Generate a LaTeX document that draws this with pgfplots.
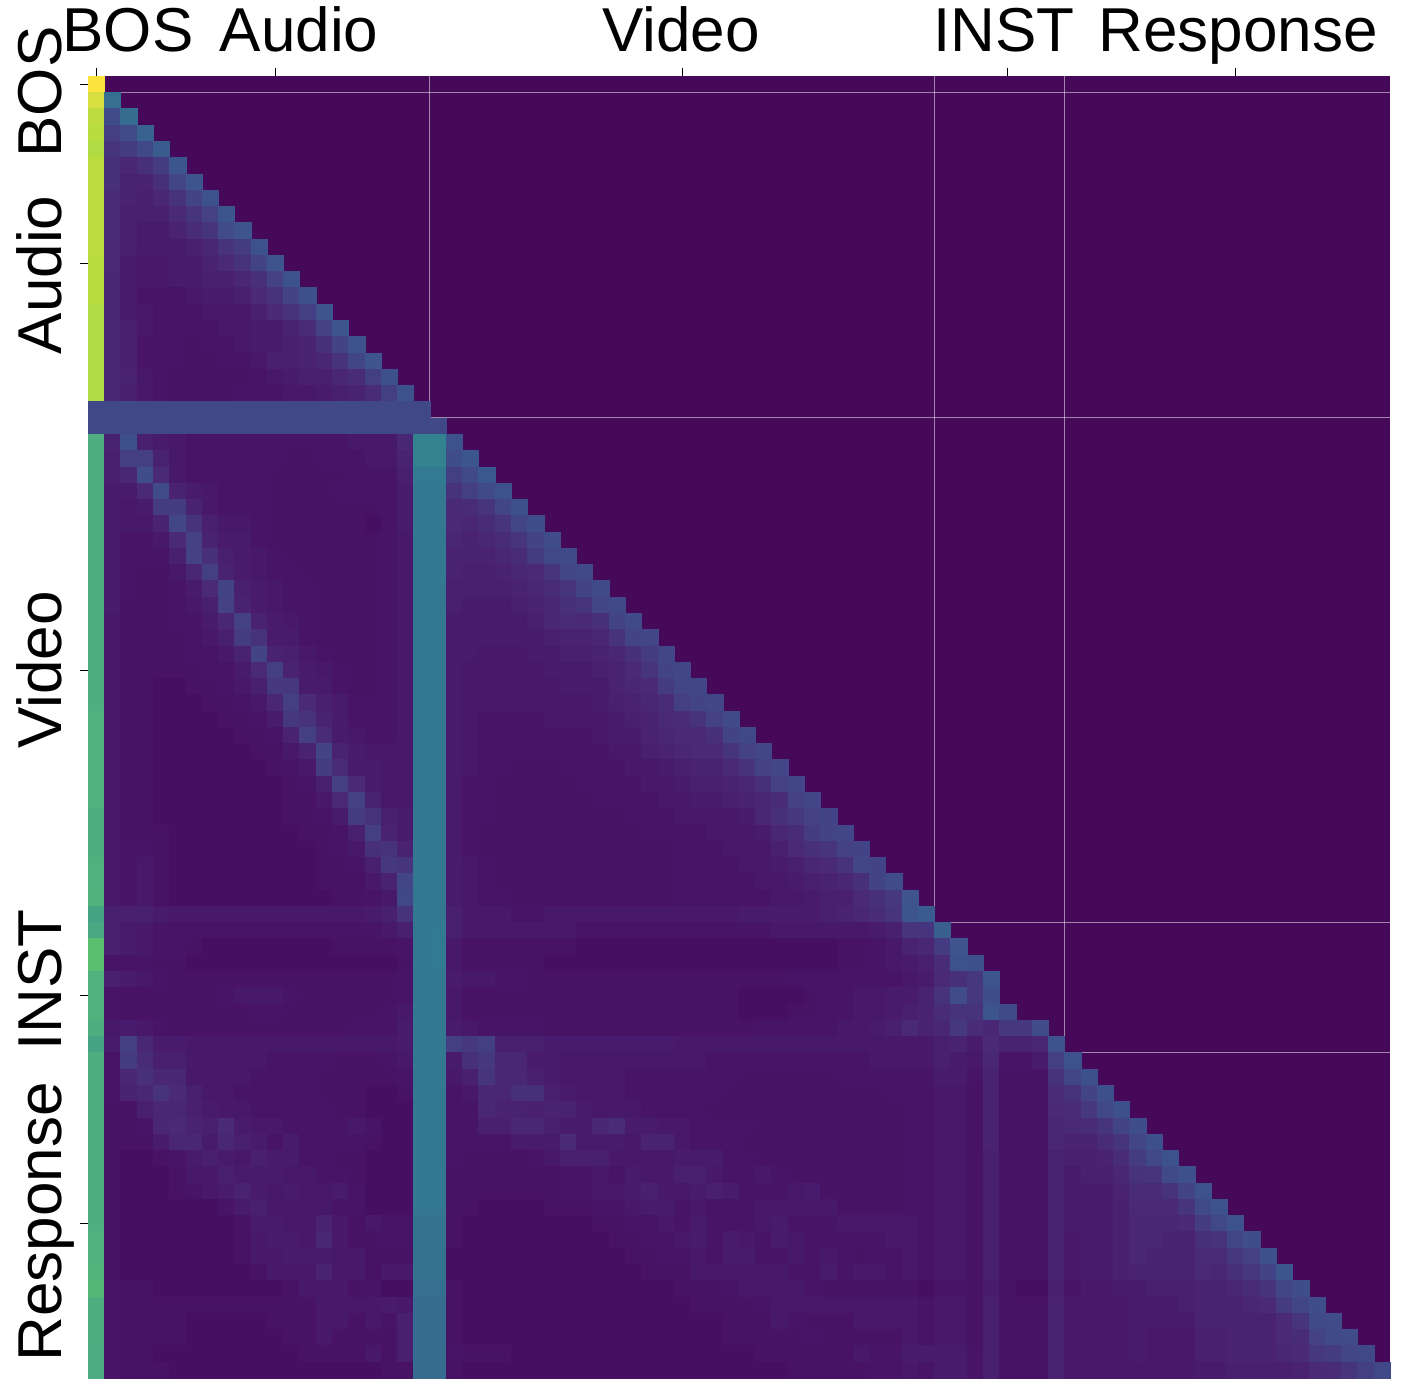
\documentclass[border=0pt]{standalone}
\usepackage{fontspec}
\setmainfont{Liberation Sans}
\usepackage{pgfplots}
\pgfplotsset{compat=1.18}
\definecolor{vbg}{RGB}{70,8,88}
\newcommand\Row[2]{%
  \gdef\coords{}%
  \foreach \vv [count=\cc from 0] in {#2} {\xdef\coords{\coords (\cc,#1) [\vv]}}%
  \edef\temp{\noexpand\addplot[cell] coordinates {\coords};}\temp}
\begin{document}
\begin{tikzpicture}
\useasboundingbox (-44pt,-6pt) rectangle (658pt,689pt);
\begin{axis}[
  scale only axis, width=651pt, height=651pt,
  xmin=-0.5, xmax=79.5, ymin=-0.5, ymax=79.5, y dir=reverse,
  axis line style={draw=none},
  axis background/.style={fill=vbg},
  colormap={refmap}{rgb255(0pt)=(70,8,88) rgb255(5pt)=(72,20,104) rgb255(10pt)=(74,38,118)
    rgb255(20pt)=(67,68,135) rgb255(30pt)=(59,88,142) rgb255(40pt)=(50,122,145)
    rgb255(50pt)=(50,145,140) rgb255(62pt)=(79,174,128) rgb255(70pt)=(90,192,112)
    rgb255(80pt)=(140,209,85) rgb255(86pt)=(184,221,62) rgb255(92pt)=(215,224,64)
    rgb255(100pt)=(253,228,60)},
  point meta min=0, point meta max=100,
  xtick={0,11,36,56,70}, ytick={0,11,36,56,70},
  xticklabel=\empty, yticklabel=\empty,
  xtick pos=upper, ytick pos=lower, tick align=outside,
  major tick length=4pt,
  tick style={black,line width=0.5pt},
  cell/.style={scatter, only marks, mark=square*, mark size=4.07pt,
    mark options={line width=0.1pt}, point meta=explicit,
    scatter/use mapped color={draw=mapped color,fill=mapped color}},
]
\Row{0}{100}
\Row{1}{92,37}
\Row{2}{87,24,36}
\Row{3}{86,18,24,33}
\Row{4}{85,15,17,22,31}
\Row{5}{87,13,10,13,17,29}
\Row{6}{87,13,9,9,13,21,28}
\Row{7}{87,12,9,8,10,14,20,27}
\Row{8}{87,12,8,8,8,11,15,19,29}
\Row{9}{87,12,8,7,7,9,12,15,24,28}
\Row{10}{87,11,8,7,7,7,8,10,14,17,27}
\Row{11}{86,11,7,6,6,7,7,9,11,14,20,28}
\Row{12}{86,10,7,6,6,7,7,8,8,10,13,19,27}
\Row{13}{86,10,7,5,5,5,6,7,7,8,11,14,20,26}
\Row{14}{85,10,7,6,5,5,5,6,6,6,8,11,14,18,28}
\Row{15}{85,10,8,6,5,5,5,5,6,6,7,7,9,12,19,28}
\Row{16}{85,10,8,5,5,5,4,5,5,6,7,7,8,9,13,20,27}
\Row{17}{85,10,8,5,5,5,4,4,5,5,6,8,8,9,10,14,21,28}
\Row{18}{85,10,9,6,5,4,4,4,4,4,5,6,7,8,8,10,12,18,26}
\Row{19}{85,10,8,6,5,4,4,4,4,5,5,5,6,6,7,8,9,12,18,27}
\Row{20}{22,22,22,22,22,22,22,22,22,22,22,22,22,22,22,22,22,22,22,22,22}
\Row{21}{22,22,22,22,22,22,22,22,22,22,22,22,22,22,22,22,22,22,22,22,22,22}
\Row{22}{62,9,26,8,7,6,5,5,5,5,5,5,5,5,5,5,6,6,6,10,44,44,27}
\Row{23}{62,8,18,18,9,6,5,5,5,5,5,5,4,4,5,5,5,6,6,9,44,44,25,29}
\Row{24}{62,8,10,25,11,6,5,5,5,5,5,4,4,4,4,4,5,5,5,8,40,40,18,23,30}
\Row{25}{62,7,7,11,24,9,7,6,5,5,5,4,4,4,4,5,5,5,5,7,39,39,14,18,23,27}
\Row{26}{62,7,6,7,17,17,9,6,5,5,5,4,4,4,4,4,4,4,5,7,39,39,11,12,15,21,26}
\Row{27}{62,7,6,6,9,21,14,8,6,6,5,4,4,4,4,4,4,3,5,7,39,39,11,10,12,15,21,25}
\Row{28}{62,7,5,5,6,11,19,9,7,7,5,4,4,4,4,4,4,4,5,6,39,39,10,9,10,12,15,20,24}
\Row{29}{62,7,5,5,5,8,19,13,8,7,6,5,4,4,4,4,4,4,5,6,39,39,9,9,9,10,12,17,22,23}
\Row{30}{62,7,5,4,4,6,10,18,9,7,6,5,5,4,4,4,4,4,5,6,39,39,9,8,8,9,10,11,15,21,22}
\Row{31}{62,7,5,4,4,5,7,11,20,8,7,6,5,5,4,4,4,4,5,6,39,39,8,8,8,8,9,10,12,15,20,23}
\Row{32}{62,7,4,4,4,5,6,8,19,9,7,6,5,5,4,4,4,4,5,6,39,39,8,7,7,7,8,9,10,13,15,21,22}
\Row{33}{62,6,4,4,4,5,5,7,10,19,9,7,6,5,4,4,4,4,5,6,39,39,7,7,7,7,7,8,10,12,11,13,20,23}
\Row{34}{62,6,4,4,4,4,5,6,8,17,14,7,7,5,4,4,4,4,5,6,39,39,7,7,7,7,7,7,8,9,9,10,14,20,21}
\Row{35}{62,6,4,4,4,4,5,5,6,9,20,9,8,6,5,4,4,4,5,6,39,39,7,7,6,6,6,7,7,8,8,9,10,13,17,21}
\Row{36}{62,6,4,4,4,4,4,5,5,7,11,18,9,7,6,5,4,4,5,6,39,39,7,6,6,6,6,6,7,7,7,8,9,11,15,20,21}
\Row{37}{62,6,4,4,3,3,4,4,5,6,8,16,16,7,7,5,4,4,5,6,39,39,7,6,6,6,6,6,6,7,7,7,9,10,11,17,21,21}
\Row{38}{62,6,4,4,3,3,3,4,4,5,6,10,18,11,8,7,5,5,5,6,39,39,7,6,6,6,6,6,6,6,6,7,8,9,10,12,18,20,21}
\Row{39}{63,6,4,4,3,3,3,3,4,4,5,7,16,14,9,7,5,5,5,6,39,39,7,6,5,5,5,5,6,6,6,6,7,8,9,11,12,14,19,23}
\Row{40}{63,6,4,4,3,3,3,3,3,4,4,5,9,18,12,7,6,5,5,6,39,39,7,6,5,5,5,5,5,5,5,6,7,7,9,10,11,11,13,20,22}
\Row{41}{63,6,4,4,3,3,3,3,3,3,4,4,6,9,20,9,7,6,6,6,39,39,7,6,5,5,5,5,5,5,5,5,6,6,8,9,10,11,11,15,19,21}
\Row{42}{63,6,4,4,3,3,3,3,3,3,3,4,5,6,17,12,7,7,6,6,39,39,7,6,5,5,4,4,4,5,5,5,5,6,6,7,8,9,9,11,14,19,21}
\Row{43}{63,6,4,4,3,3,3,3,3,3,3,3,4,5,8,18,11,7,6,6,39,39,7,5,5,4,4,4,4,4,5,5,5,5,6,6,7,8,8,9,10,13,19,21}
\Row{44}{63,6,4,4,3,3,3,3,3,3,3,3,4,4,6,11,19,9,6,6,39,39,7,5,5,4,4,4,4,4,4,5,5,5,5,6,6,7,7,8,9,10,12,19,21}
\Row{45}{62,6,4,4,3,3,3,3,3,3,3,3,4,4,5,7,17,14,8,7,39,39,7,5,5,4,4,4,4,4,4,4,4,5,5,5,6,6,6,6,7,10,13,16,19,20}
\Row{46}{62,6,4,4,4,3,3,3,3,3,3,3,3,4,4,5,8,18,9,7,39,39,7,5,4,4,4,4,4,4,4,4,4,4,5,5,5,5,6,6,6,7,10,12,17,20,21}
\Row{47}{62,6,5,5,4,3,3,3,3,3,3,3,3,3,4,5,6,13,14,9,39,39,7,5,4,4,4,4,4,4,4,4,4,4,4,4,5,5,5,6,6,6,8,11,13,15,19,20}
\Row{48}{63,6,5,6,4,3,3,3,3,3,3,3,3,3,4,4,5,8,16,15,39,39,7,6,5,4,4,4,4,4,4,4,4,4,4,4,5,5,5,5,6,6,7,8,10,11,14,21,20}
\Row{49}{63,6,5,6,4,3,3,3,3,3,3,3,3,3,4,4,4,6,9,21,39,39,7,6,5,4,4,4,4,4,4,4,4,4,4,4,5,5,5,5,5,6,6,7,8,9,10,13,20,24}
\Row{50}{64,6,5,6,4,3,3,3,3,3,3,3,3,3,3,4,4,5,6,22,39,39,7,6,5,5,4,4,4,4,4,4,4,4,4,4,5,5,5,5,5,5,6,6,7,8,8,11,13,16,28}
\Row{51}{58,8,8,8,7,6,6,6,6,6,6,6,6,6,6,6,6,7,8,14,39,39,8,6,6,6,5,5,6,6,6,6,6,6,6,6,6,6,6,6,7,7,7,7,7,8,9,10,12,15,29,31}
\Row{52}{60,8,7,6,5,5,5,5,5,5,5,5,5,5,5,5,5,5,6,8,39,40,8,6,6,6,6,6,6,6,5,5,5,5,5,5,5,5,5,5,5,5,6,6,6,6,6,6,7,8,15,15,32}
\Row{53}{70,8,7,6,5,5,4,3,3,3,3,3,3,3,3,4,4,4,4,5,39,40,6,4,4,4,4,4,4,4,3,3,3,3,3,3,3,3,3,3,3,3,3,3,3,3,4,4,5,6,9,10,17,28}
\Row{54}{70,5,5,5,4,4,3,3,3,3,3,3,3,3,3,3,3,3,3,4,39,40,6,4,4,4,4,4,3,3,3,3,3,3,3,3,3,3,3,3,3,3,3,3,3,3,4,4,5,6,7,8,12,27,26}
\Row{55}{63,8,7,6,5,4,4,4,4,4,4,4,4,4,4,4,4,4,4,5,39,39,7,6,6,5,5,4,4,4,4,4,4,4,4,4,4,4,4,4,4,4,4,5,5,5,5,5,5,5,6,7,11,13,16,28}
\Row{56}{63,5,4,4,4,4,4,4,5,6,6,6,5,4,4,4,4,4,4,5,39,39,6,4,4,4,4,4,4,4,4,4,4,4,4,4,4,4,4,4,3,3,3,3,4,5,5,6,6,7,7,9,14,24,16,25}
\Row{57}{63,5,4,4,4,4,4,4,4,4,5,5,4,4,4,4,4,4,5,6,39,39,6,4,4,4,4,4,4,4,4,4,4,4,4,4,4,4,4,4,3,3,3,4,4,5,5,6,6,7,8,9,12,14,14,29,23}
\Row{58}{62,6,7,6,5,4,4,4,4,4,4,4,4,4,4,4,5,5,5,7,39,39,7,6,5,5,5,5,4,4,4,4,4,4,4,4,4,4,4,4,4,5,5,5,5,5,6,6,7,8,11,9,10,16,12,10,16,16,24}
\Row{59}{58,7,18,10,7,7,6,6,6,6,6,6,6,6,6,6,6,6,6,7,39,39,18,16,18,8,8,8,7,7,7,7,7,7,7,7,6,6,6,6,6,6,6,6,6,6,6,6,6,6,6,6,8,9,7,11,9,9,10,27}
\Row{60}{62,5,17,12,8,8,6,6,6,6,6,5,5,5,5,4,4,4,5,6,39,39,7,13,16,10,10,7,7,6,6,6,6,6,6,6,6,6,5,5,5,5,5,5,5,5,5,5,6,6,6,6,8,7,6,10,5,5,7,18,27}
\Row{61}{62,5,10,13,10,10,6,6,6,6,5,5,5,5,4,4,4,4,4,5,39,39,6,8,15,10,10,8,7,6,6,6,6,5,5,5,5,5,5,5,4,4,4,4,4,4,5,5,5,5,5,5,7,7,5,9,4,4,4,14,21,26}
\Row{62}{62,5,9,10,14,11,8,6,6,5,5,5,5,5,4,4,4,3,3,4,39,39,5,6,10,10,13,13,8,7,6,6,6,5,5,5,5,5,5,4,4,4,4,4,4,4,4,4,4,5,5,5,6,6,4,9,4,4,4,12,14,20,26}
\Row{63}{62,4,4,8,10,10,8,7,6,6,5,5,5,5,5,4,4,3,3,3,39,39,5,5,10,9,9,8,9,9,7,6,6,6,5,5,5,5,4,4,4,4,4,4,4,4,4,4,4,4,5,5,6,6,4,9,4,4,4,11,12,16,22,26}
\Row{64}{62,4,4,5,10,11,9,8,11,7,6,6,5,5,5,5,6,5,3,3,39,39,5,5,8,8,10,10,8,7,7,10,12,7,7,6,6,5,5,5,5,4,4,4,4,4,4,4,4,4,5,5,6,6,4,9,4,4,4,10,11,12,15,20,25}
\Row{65}{62,4,4,4,7,10,10,7,10,8,7,5,7,5,5,5,5,4,3,3,39,39,5,5,5,5,7,7,7,11,7,7,7,6,9,9,6,5,5,5,4,4,4,4,4,4,4,4,4,4,5,5,6,6,4,9,4,4,4,10,9,9,12,15,21,26}
\Row{66}{62,4,3,3,4,5,7,8,7,6,8,7,7,5,5,4,4,3,3,3,39,39,5,4,4,4,4,5,6,8,8,8,6,6,6,6,7,7,7,5,5,4,4,4,4,4,4,4,4,4,5,5,6,6,4,8,4,4,4,9,8,8,9,12,17,22,27}
\Row{67}{62,4,3,3,3,4,6,6,8,7,7,7,6,6,5,5,4,3,3,3,39,39,4,4,4,4,4,4,4,5,5,6,5,7,6,6,8,8,6,5,5,6,5,4,4,4,4,4,4,4,5,5,6,6,4,8,4,4,4,9,7,8,8,10,14,15,23,26}
\Row{68}{62,4,3,3,3,4,5,6,7,9,7,6,7,6,6,7,5,3,3,3,39,39,4,4,4,4,4,4,4,5,5,6,6,7,8,6,6,7,8,7,5,5,5,6,7,4,4,4,4,4,5,5,6,6,4,8,4,4,4,9,7,7,7,9,12,12,14,20,27}
\Row{69}{62,4,3,3,3,3,3,3,5,7,8,6,6,6,6,5,5,3,3,3,39,39,4,4,3,3,3,3,4,4,4,5,5,6,7,7,5,6,5,5,5,6,6,6,6,6,4,4,4,4,5,5,6,6,4,8,4,4,4,9,7,7,7,8,11,11,11,15,23,27}
\Row{70}{62,4,3,3,3,3,3,3,3,4,7,7,6,6,9,6,4,6,5,5,38,38,4,3,3,3,3,3,3,3,3,4,4,5,5,6,5,7,5,5,5,6,7,5,5,5,6,6,6,6,6,5,6,6,4,8,4,4,4,9,7,7,7,8,10,10,10,11,17,22,27}
\Row{71}{63,4,3,3,3,3,3,3,3,4,6,7,7,6,10,6,4,4,5,5,38,38,4,3,3,3,3,3,3,3,3,3,4,4,5,5,6,7,5,7,6,5,7,6,5,5,5,5,5,6,6,5,6,6,4,8,4,4,4,9,6,7,7,8,10,10,9,9,13,14,21,25}
\Row{72}{63,4,3,3,3,3,3,3,3,4,6,6,7,7,7,6,6,4,4,4,38,38,3,3,3,3,3,3,3,3,3,3,3,4,4,5,5,6,5,7,7,5,5,6,5,6,5,4,5,5,6,5,6,6,4,8,4,4,4,9,6,7,7,8,10,9,9,9,12,12,16,19,26}
\Row{73}{65,4,3,3,3,3,3,3,3,3,4,6,6,6,9,6,6,4,6,6,38,38,3,3,3,3,3,3,3,3,3,3,3,3,4,4,4,6,6,6,6,6,6,5,5,7,5,6,6,5,6,5,6,6,4,8,4,4,4,9,6,7,7,8,9,9,9,9,11,10,13,16,20,29}
\Row{74}{66,5,4,4,3,3,3,3,3,3,3,3,4,6,6,6,4,5,3,3,37,37,4,3,3,3,3,3,3,3,3,3,3,3,3,3,4,4,4,5,6,6,6,6,5,4,4,4,4,4,4,3,5,5,4,7,4,3,3,8,5,6,6,7,7,8,8,8,9,9,10,12,14,21,25}
\Row{75}{62,5,4,4,4,4,4,4,4,4,4,4,4,4,6,6,6,6,7,6,36,36,4,3,3,3,3,3,3,3,3,3,3,3,3,3,3,4,4,4,4,5,6,6,6,6,6,6,6,6,6,5,6,6,4,8,4,4,4,9,6,6,6,6,7,7,7,8,9,9,9,10,11,17,21,25}
\Row{76}{62,5,4,4,4,4,3,3,3,3,3,4,4,4,6,6,4,6,5,8,36,36,4,3,3,3,3,3,3,3,3,3,3,3,3,3,3,3,3,4,4,4,6,5,4,4,4,6,6,6,6,5,6,6,4,8,4,4,4,9,6,6,6,6,7,7,7,7,9,9,9,9,9,11,15,23,24}
\Row{77}{62,5,4,4,4,4,3,3,3,3,3,3,4,4,6,4,4,4,4,8,36,36,4,3,3,3,3,3,3,3,3,3,3,3,3,3,3,3,3,4,4,4,4,4,5,4,4,4,4,4,6,5,6,6,4,8,4,4,4,9,6,6,6,6,7,6,6,6,8,8,9,9,9,11,12,19,23,24}
\Row{78}{61,5,4,4,3,3,3,3,3,3,3,3,3,4,4,4,4,6,4,8,36,36,5,4,4,4,3,3,3,3,3,3,3,3,3,3,3,3,3,3,3,4,4,4,4,4,4,6,5,5,7,7,7,7,5,8,4,4,4,9,6,6,6,6,7,6,6,6,8,8,9,9,9,10,11,16,17,21,22}
\Row{79}{61,5,4,4,4,3,3,3,3,3,3,3,3,3,3,3,3,3,4,4,36,36,4,3,3,3,3,3,3,3,3,3,3,3,3,3,3,3,3,3,3,3,3,4,4,4,4,4,5,5,6,5,7,7,5,8,4,4,4,9,6,6,6,6,6,6,6,6,7,7,8,8,8,8,9,11,12,15,18,22}
\draw[white,opacity=0.5,line width=0.5pt] (axis cs:20.5,-0.5) -- (axis cs:20.5,79.5);
\draw[white,opacity=0.5,line width=0.5pt] (axis cs:51.5,-0.5) -- (axis cs:51.5,79.5);
\draw[white,opacity=0.5,line width=0.5pt] (axis cs:59.5,-0.5) -- (axis cs:59.5,79.5);
\draw[white,opacity=0.25,line width=0.5pt] (axis cs:0.5,-0.5) -- (axis cs:0.5,79.5);
\draw[white,opacity=0.5,line width=0.5pt] (axis cs:-0.5,0.5) -- (axis cs:79.5,0.5);
\draw[white,opacity=0.5,line width=0.5pt] (axis cs:-0.5,20.5) -- (axis cs:79.5,20.5);
\draw[white,opacity=0.5,line width=0.5pt] (axis cs:-0.5,51.5) -- (axis cs:79.5,51.5);
\draw[white,opacity=0.5,line width=0.5pt] (axis cs:-0.5,59.5) -- (axis cs:79.5,59.5);
\end{axis}
\tikzset{lab/.style={anchor=base,inner sep=0pt,font=\fontsize{31}{36}\selectfont}}
\node[lab] at (20pt,663pt) {BOS};
\node[lab] at (105.5pt,663pt) {Audio};
\node[lab] at (296.5pt,663pt) {Video};
\node[lab] at (458pt,663pt) {INST};
\node[lab] at (575pt,663pt) {Response};
\node[lab,rotate=90] at (-13pt,643pt) {BOS};
\node[lab,rotate=90] at (-13pt,551.5pt) {Audio};
\node[lab,rotate=90] at (-13pt,354pt) {Video};
\node[lab,rotate=90] at (-13pt,199pt) {INST};
\node[lab,rotate=90] at (-13pt,78pt) {Response};
\end{tikzpicture}
\end{document}
